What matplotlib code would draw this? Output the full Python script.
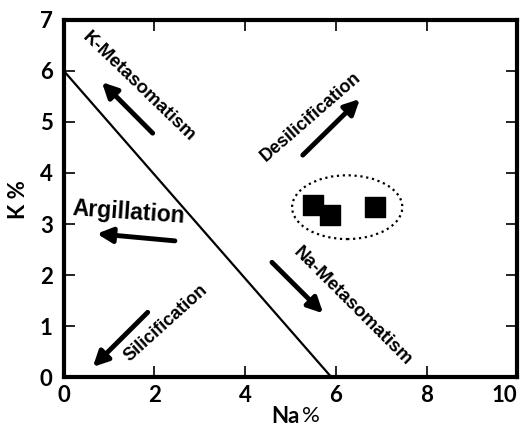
import matplotlib.pyplot as plt
from matplotlib.patches import Ellipse

# samples (Na %, K %)
na = [5.50, 5.88, 6.87]
k = [3.38, 3.18, 3.33]

# boundary line
line_na = [0, 5.9]
line_k = [6, 0]

# process arrows: (tail, tip)
arrows = [
    ((1.96, 4.78), (0.84, 5.78)),
    ((5.27, 4.35), (6.53, 5.45)),
    ((2.45, 2.67), (0.73, 2.81)),
    ((1.85, 1.27), (0.64, 0.20)),
    ((4.59, 2.25), (5.72, 1.25)),
]
labels = ['K-Metasomatism', 'Desilicification', 'Argillation', 'Silicification', 'Na-Metasomatism']
label_pos = [(1.66, 5.69), (5.45, 5.10), (1.43, 3.22), (2.25, 1.06), (6.36, 1.39)]
label_rot = [-44, 41, -4, 42, -45]
label_size = [13.5, 13, 16.5, 13, 13.5]

ticks_x = [0, 2, 4, 6, 8, 10]
ticks_y = [0, 1, 2, 3, 4, 5, 6, 7]

fig = plt.figure(figsize=(5.23, 4.32), dpi=100)
ax = fig.add_axes([0.122, 0.127, 0.867, 0.827])

ax.plot(line_na, line_k, color='black', lw=1.6)
ax.scatter(na, k, marker='s', s=190, color='black', zorder=3)
ax.add_patch(Ellipse((6.25, 3.33), 2.43, 1.25, fill=False, ls=':', lw=1.6, color='black'))

for (tail, tip) in arrows:
    ax.annotate('', xy=tip, xytext=tail,
                arrowprops=dict(arrowstyle='-|>,head_length=0.9,head_width=0.45',
                                lw=3.5, color='black', shrinkA=0, shrinkB=0))

for txt, pos, rot, fs in zip(labels, label_pos, label_rot, label_size):
    ax.text(pos[0], pos[1], txt, rotation=rot, fontsize=fs, fontweight='bold',
            family='Liberation Sans', ha='center', va='center', rotation_mode='anchor')

ax.set_xlim(0, 10)
ax.set_ylim(0, 7)
ax.set_xticks(ticks_x)
ax.set_yticks(ticks_y)
ax.tick_params(direction='in', length=8, width=1.2, top=True, right=True,
               labeltop=False, labelright=False)
ax.tick_params(axis='x', pad=6)
ax.tick_params(axis='y', pad=8)
for lab in ax.get_xticklabels() + ax.get_yticklabels():
    lab.set_fontfamily('Lato')
    lab.set_fontweight('bold')
    lab.set_fontsize(16)
# keep the "10" inside the figure
ax.get_xticklabels()[-1].set_horizontalalignment('right')

for sp in ax.spines.values():
    sp.set_linewidth(3)

ax.text(-0.099, 0.496, 'K %', transform=ax.transAxes, rotation=90, ha='center', va='center',
        fontsize=16, fontweight='bold', family='Lato')
ax.text(0.521, -0.11, 'Na', transform=ax.transAxes, ha='right', va='center',
        fontsize=16, fontweight='bold', family='Lato')
ax.text(0.526, -0.11, '%', transform=ax.transAxes, ha='left', va='center',
        fontsize=16, family='Lato')

fig.savefig('out.png', dpi=100)
